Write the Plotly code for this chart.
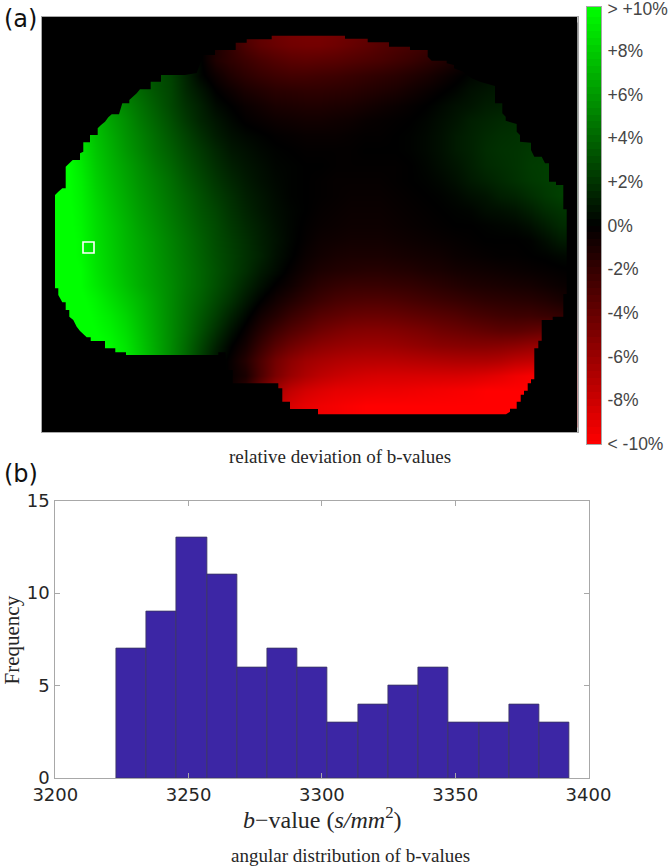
import numpy as np
import plotly.graph_objects as go

W, H = 671, 866

# --- (a) deviation map: rows of values in tenths of a percent
map_x = [50 + 15 * i for i in range(36)]
map_y = [30 + 15 * i for i in range(27)]
R30 = [90,80,70,60,50,42,36,30,22,12,2,-12,-25,-33,-40,-44,-47,-48,-48,-46,-43,-40,-36,-33,-30,-27,-24,-20,-15,-10,-5,-2,0,0,0,0]
R45 = [90,80,70,60,50,42,36,30,22,12,0,-10,-20,-30,-37,-41,-44,-45,-45,-43,-40,-37,-33,-30,-27,-24,-20,-14,-8,-3,0,2,4,4,4,4]
R60 = [90,80,70,60,50,42,36,30,24,12,1,-12,-18,-23,-28,-32,-35,-36,-35,-34,-32,-30,-28,-25,-22,-18,-14,-9,-4,0,3,5,6,6,6,6]
R75 = [95,85,72,62,52,44,38,32,26,14,2,-5,-12,-17,-21,-24,-26,-26,-25,-24,-22,-20,-18,-16,-13,-10,-6,-2,2,5,7,8,8,8,8,8]
R90 = [100,90,76,66,56,48,40,33,27,16,8,0,-5,-10,-13,-16,-17,-18,-18,-17,-16,-14,-12,-10,-7,-4,-1,2,6,8,10,11,11,11,11,11]
R105 = [105,95,80,70,60,52,44,36,28,19,12,4,0,-4,-7,-10,-11,-12,-12,-11,-10,-8,-6,-4,-2,0,3,6,8,11,12,14,14,14,14,14]
R120 = [105,100,85,74,64,56,47,39,31,22,14,8,3,-1,-3,-5,-6,-7,-7,-6,-5,-3,-2,-1,0,2,5,8,12,14,16,17,18,18,18,18]
R135 = [105,100,88,76,67,58,50,42,34,26,18,11,6,3,1,-1,-2,-3,-3,-3,-2,-1,-1,0,1,3,6,10,13,16,18,19,20,20,20,20]
R150 = [105,100,90,78,69,60,52,44,37,29,22,15,9,6,3,1,0,-1,-1,-1,-1,0,0,0,1,3,6,10,13,17,19,20,22,23,23,23]
R165 = [105,102,92,80,71,63,55,47,40,32,25,18,12,8,5,2,1,0,0,-1,-1,-1,-1,-1,0,2,5,8,12,16,18,20,23,24,24,24]
R180 = [105,102,94,82,73,65,57,50,43,35,28,21,15,10,6,3,1,0,-1,-2,-2,-2,-2,-1,0,1,3,6,10,13,16,19,22,24,25,25]
R195 = [105,102,95,84,75,67,59,52,45,38,31,24,18,12,8,4,1,0,-1,-2,-3,-3,-3,-2,-1,0,1,3,6,8,12,14,18,22,25,25]
R210 = [105,103,96,86,77,69,61,54,47,40,33,27,20,14,9,5,2,0,-2,-3,-4,-4,-4,-3,-2,-1,0,1,2,5,6,8,12,17,20,22]
R225 = [105,103,97,87,79,71,63,56,49,42,35,29,22,16,11,6,2,-1,-3,-4,-5,-5,-5,-4,-3,-2,-1,0,0,1,2,3,6,11,16,18]
R240 = [105,104,98,88,80,72,65,58,51,44,37,30,24,18,12,7,2,-2,-5,-6,-7,-7,-7,-6,-5,-4,-3,-2,-1,0,0,0,1,5,10,12]
R255 = [105,104,98,89,81,73,66,59,52,45,38,31,25,19,13,6,1,-4,-7,-9,-10,-10,-10,-9,-8,-7,-6,-4,-3,-2,-1,-1,0,1,3,4]
R270 = [105,104,100,90,82,74,67,60,53,46,39,32,25,18,10,4,-2,-7,-11,-13,-14,-15,-15,-14,-13,-11,-10,-8,-7,-6,-5,-4,-3,-2,-1,0]
R285 = [105,105,100,92,84,76,68,61,54,46,39,31,23,14,6,-1,-6,-12,-17,-20,-22,-22,-22,-21,-20,-18,-16,-14,-12,-11,-10,-9,-8,-6,-4,-3]
R300 = [105,105,102,96,88,80,72,63,54,45,37,28,19,9,0,-7,-13,-19,-24,-28,-30,-31,-31,-30,-28,-26,-24,-22,-20,-18,-17,-16,-15,-13,-10,-8]
R315 = [105,105,104,98,92,84,74,64,54,44,34,24,13,3,-7,-14,-22,-28,-34,-37,-40,-41,-41,-40,-38,-36,-34,-32,-29,-27,-25,-24,-24,-22,-20,-18]
R330 = [105,105,105,100,95,87,76,65,54,43,31,19,7,-3,-14,-24,-32,-38,-44,-48,-51,-52,-52,-51,-49,-47,-44,-42,-40,-38,-36,-36,-38,-40,-40,-40]
R345 = [105,105,105,103,98,90,78,66,54,41,27,13,1,-8,-22,-34,-43,-50,-55,-58,-60,-61,-61,-60,-58,-56,-54,-53,-52,-52,-53,-55,-58,-60,-60,-60]
R360 = [105,105,105,104,100,92,80,67,54,40,24,8,-3,-14,-30,-45,-55,-62,-66,-69,-71,-72,-72,-72,-71,-70,-69,-68,-68,-68,-70,-74,-76,-76,-76,-76]
R375 = [105,105,105,104,100,92,80,67,54,40,24,8,-3,-10,-30,-48,-60,-68,-74,-78,-81,-83,-84,-84,-84,-84,-84,-84,-85,-87,-90,-94,-97,-97,-97,-97]
R390 = [105,105,105,104,100,92,80,67,54,40,24,8,-5,-20,-45,-65,-76,-83,-87,-90,-91,-92,-93,-93,-94,-95,-96,-97,-98,-100,-100,-100,-100,-100,-100,-100]
R405 = [105,105,105,104,100,92,80,67,54,40,24,8,-8,-30,-55,-75,-85,-91,-94,-96,-98,-100,-100,-100,-100,-100,-100,-100,-100,-100,-100,-100,-100,-100,-100,-100]
R420 = [105,105,105,104,100,92,80,67,54,40,24,8,-8,-30,-55,-75,-85,-91,-94,-96,-98,-100,-100,-100,-100,-100,-100,-100,-100,-100,-100,-100,-100,-100,-100,-100]
map_rows = [R30,R45,R60,R75,R90,R105,R120,R135,R150,R165,R180,R195,R210,R225,R240,R255,R270,R285,R300,R315,R330,R345,R360,R375,R390,R405,R420]

# outline of the imaged region
roi_x = [55,58.3,62.3,65.7,65.7,69.3,72.7,80,80,83.3,83.3,90,90,97.7,97.7,101,105,108.3,111.7,119,122.3,129.3,129.3,133.3,136.7,140,150.7,150.7,161,161,185,196.7,203.3,215,215,235.7,235.7,246.7,246.7,271.7,271.7,
         345,345,367.7,367.7,389,389,410,410,427.7,427.7,431.7,446.7,446.7,454,454,463.3,471.7,480,495,495,502.3,502.3,505.7,505.7,516.7,516.7,520,520,531,531,534.3,541.7,545,549,549,556,556,563.3,563.3,566.7,
         566.7,563.3,563.3,552.7,552.7,541.7,541.7,538.3,538.3,534.3,534.3,531,531,527.7,527.7,524,524,520.7,520.7,516.7,516.7,510,510,506,318,318,
         290,290,282.3,282.3,278.3,278.3,232.7,232.7,225.7,225.7,218.3,218.3,126,126,115.3,115.3,105,105,90.7,90.7,86.7,83.3,80,76.7,73.3,69.3,69.3,65.7,65.7,62.3,58.3,58.3,55,55]
roi_y = [195,191.7,188.3,188.3,166.7,163.3,160,160,153.3,151.7,142.3,142.3,135,135,128.3,125,121.7,117.3,114.3,114.3,103.3,103.3,100,96.7,93.3,89.3,89.3,81.7,81.7,75,75,73,55,55,50,50,42.7,42.7,39.3,39.3,35.7,
         35.7,38.7,38.7,42.3,42.3,46.7,46.7,50,50,56.7,60.7,60.7,63.3,65,68.3,71.7,78.3,81.7,86,103.3,103.3,113.3,116.7,120.7,124,131.7,135,141.7,142.7,150,156.7,156.7,163.3,163.3,181.7,181.7,185,185,209.3,209.3,
         294,294,316.7,316.7,320,320,340.7,340.7,348.3,348.3,379.3,379.3,383.3,383.3,390.7,390.7,394.7,394.7,401.7,401.7,408.7,408.7,411.7,414.3,414.3,409,
         409,401.7,401.7,388.3,388.3,383.3,383.3,370,370,352.3,352.3,355,355,352.3,352.3,348.3,348.3,341,341,337.3,337.3,334.3,331,326.7,320,316.7,310,310,302.3,302.3,295,288.3,288.3,195]
frame_x = [41.5, 577.5, 577.5, 41.5, 41.5]
frame_y = [17, 17, 432, 432, 17]
voxel_x = [88.5]
voxel_y = [247.5]

cbar_vals = [9.9, 8, 6, 4, 2, 0, -2, -4, -6, -8, -10]
cbar_text = ["> +10%", "+8%", "+6%", "+4%", "+2%", "0%", "-2%", "-4%", "-6%", "-8%", "< -10%"]

# --- (b) histogram
bin_left = 3222.9
bin_width = 11.33
counts = [7, 9, 13, 11, 6, 7, 6, 3, 4, 5, 6, 3, 3, 4, 3]
bin_centres = [bin_left + bin_width * (i + 0.5) for i in range(len(counts))]

scale = [[0, "#ff0000"], [0.5, "#000000"], [1, "#00ff00"]]
bar_levels = np.linspace(-10, 10, 64)

fig = go.Figure()
fig.add_trace(go.Heatmap(
    x=map_x, y=map_y, z=np.array(map_rows) / 10.0, zmin=-10, zmax=10, zsmooth="best",
    colorscale=scale, showscale=False, xaxis="x", yaxis="y",
))
# black everything outside the outline: frame, slit in, then outline run the other way round
mask_x = frame_x + roi_x[::-1] + [frame_x[0]]
mask_y = frame_y + roi_y[::-1] + [frame_y[0]]
fig.add_trace(go.Scatter(x=mask_x, y=mask_y, mode="lines", fill="toself", fillcolor="#000000",
                         line=dict(color="#000000", width=0), hoverinfo="skip", showlegend=False,
                         xaxis="x", yaxis="y"))
fig.add_trace(go.Scatter(x=voxel_x, y=voxel_y, mode="markers", showlegend=False,
                         marker=dict(symbol="square-open", size=11, color="#ffffff", line=dict(color="#ffffff", width=1.6)),
                         xaxis="x", yaxis="y"))
fig.add_trace(go.Bar(x=bin_centres, y=counts, width=bin_width, showlegend=False,
                     marker=dict(color="#3c26a5", line=dict(color="#3a3560", width=0.8)),
                     xaxis="x2", yaxis="y2"))
fig.add_trace(go.Heatmap(x=[0], y=bar_levels, z=[[v] for v in bar_levels], zmin=-10, zmax=10,
                         colorscale=scale, showscale=False, xaxis="x3", yaxis="y3"))

serif = "Liberation Serif"
frame = dict(showgrid=False, zeroline=False, showline=True, linecolor="#a8a8a8", linewidth=1, automargin=False)
fig.update_layout(
    width=W, height=H, autosize=False, margin=dict(l=0, r=0, t=0, b=0),
    paper_bgcolor="#ffffff", plot_bgcolor="#ffffff", showlegend=False, bargap=0,
    xaxis=dict(domain=[41.5 / W, 577.5 / W], range=[41.5, 577.5], showticklabels=False, ticks="", mirror=True, **frame),
    yaxis=dict(domain=[1 - 432 / H, 1 - 17 / H], range=[432, 17], showticklabels=False, ticks="", mirror=True, **frame),
    xaxis2=dict(domain=[55.3 / W, 588.5 / W], range=[3200, 3400], anchor="y2", tickvals=[3200, 3250, 3300, 3350, 3400],
                ticks="inside", ticklen=5, tickcolor="#a8a8a8", mirror="ticks",
                tickfont=dict(family="DejaVu Sans", size=18, color="#262626"), **frame),
    yaxis2=dict(domain=[1 - 778 / H, 1 - 500.5 / H], range=[0, 15], anchor="x2", tickvals=[0, 5, 10, 15],
                ticks="inside", ticklen=5, tickcolor="#a8a8a8", mirror="ticks", ticklabelstandoff=1,
                tickfont=dict(family="DejaVu Sans", size=18, color="#262626"), **frame),
    xaxis3=dict(domain=[587 / W, 601 / W], range=[-0.5, 0.5], anchor="y3", showticklabels=False, ticks="", mirror=True, **frame),
    yaxis3=dict(domain=[1 - 444 / H, 1 - 7 / H], range=[-10, 10], anchor="x3", side="right", tickmode="array",
                tickvals=cbar_vals, ticktext=cbar_text, ticks="", ticklabelstandoff=2, ticklabeloverflow="allow", mirror=True,
                tickfont=dict(family="Liberation Sans", size=17.5, color="#454545"), **frame),
    annotations=[
        dict(text="(a)", xref="paper", yref="paper", x=2 / W, y=1 - 19 / H, xanchor="left", yanchor="middle",
             showarrow=False, font=dict(family="DejaVu Sans", size=24, color="#111111")),
        dict(text="(b)", xref="paper", yref="paper", x=2 / W, y=1 - 474 / H, xanchor="left", yanchor="middle",
             showarrow=False, font=dict(family="DejaVu Sans", size=24, color="#111111")),
        dict(text="relative deviation of b-values", xref="paper", yref="paper", x=340 / W, y=1 - 456 / H,
             xanchor="center", yanchor="middle", showarrow=False,
             font=dict(family=serif, size=19, color="#262626")),
        dict(text="angular distribution of b-values", xref="paper", yref="paper", x=351 / W, y=1 - 855 / H,
             xanchor="center", yanchor="middle", showarrow=False,
             font=dict(family=serif, size=19, color="#262626")),
        dict(text="Frequency", xref="paper", yref="paper", x=11.5 / W, y=1 - 640 / H, textangle=-90,
             xanchor="center", yanchor="middle", showarrow=False,
             font=dict(family=serif, size=21, color="#262626")),
        dict(text="<i>b</i>−value (<i>s/mm</i><sup>2</sup>)", xref="paper", yref="paper", x=322 / W, y=1 - 818 / H,
             xanchor="center", yanchor="middle", showarrow=False,
             font=dict(family=serif, size=24, color="#262626")),
    ],
)
fig.write_html("out.html", config=dict(displayModeBar=False), post_script="document.body.style.margin='0';")
